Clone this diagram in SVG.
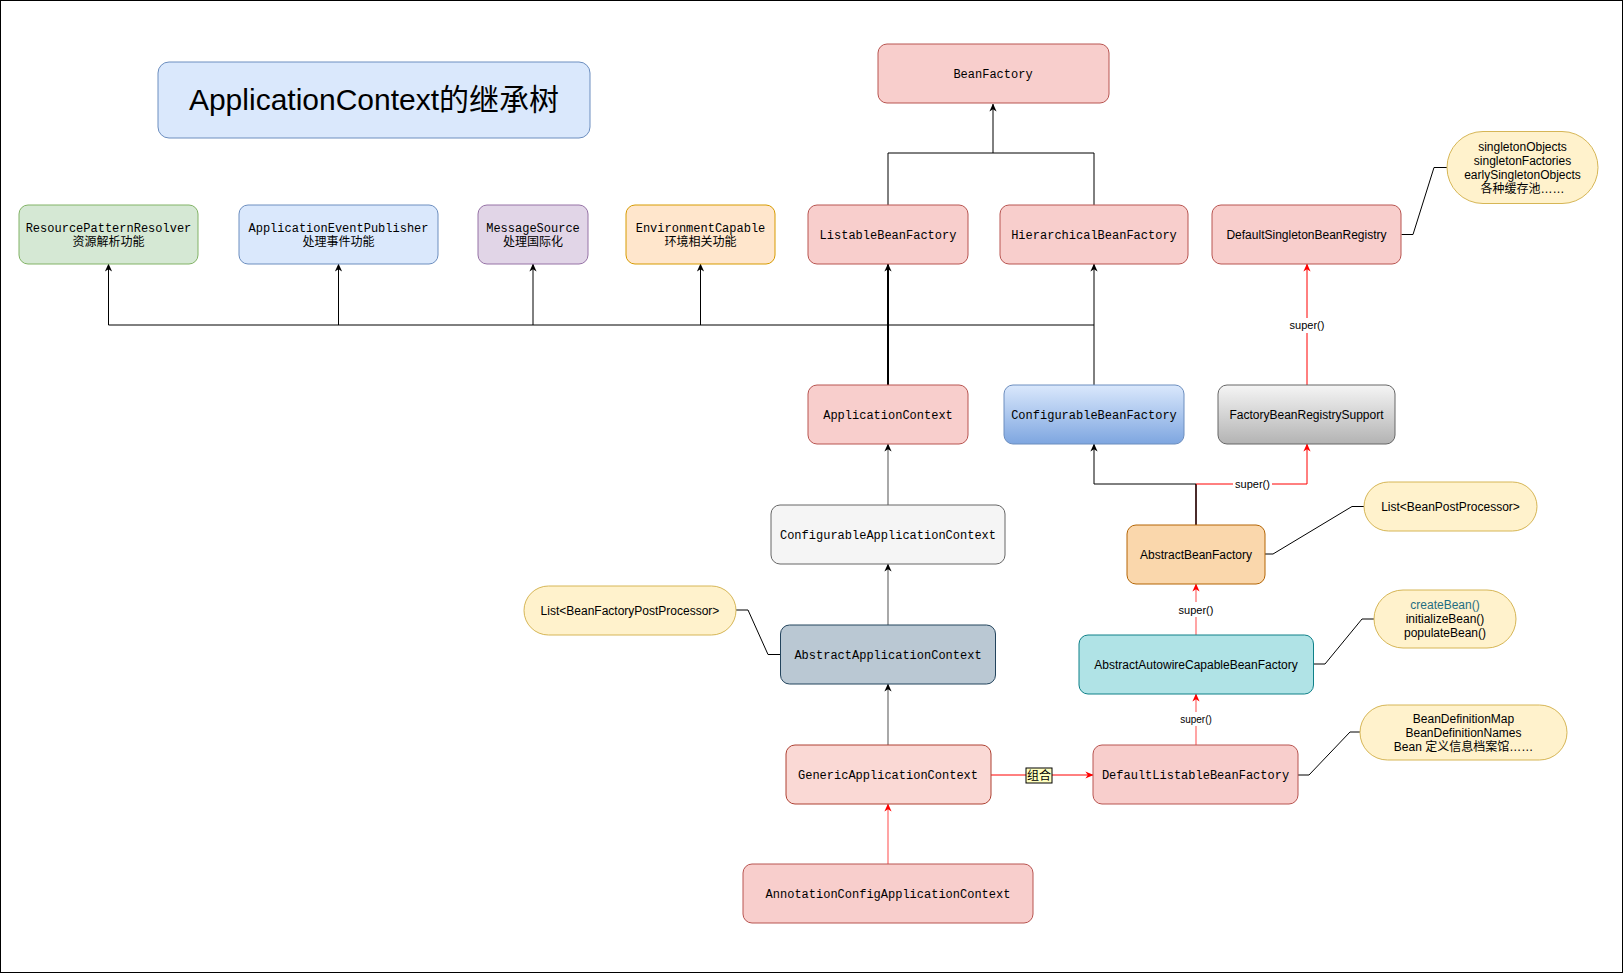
<svg xmlns="http://www.w3.org/2000/svg" width="1623" height="973" viewBox="0 0 1623 973">
<style>
.mono{font-family:"Liberation Mono","Courier New",monospace;font-size:12px;fill:#000;text-anchor:middle}
.sans{font-family:"Liberation Sans",Arial,"Noto Sans CJK SC",sans-serif;font-size:12px;fill:#000;text-anchor:middle}
.lbl{font-family:"Liberation Sans",Arial,"Noto Sans CJK SC",sans-serif;font-size:11px;fill:#000;text-anchor:middle}
.red{fill:#f8cecc;stroke:#b85450}
.note{fill:#fff2cc;stroke:#d6b656}
.e{fill:none;stroke:#000;stroke-width:1}
.eg{fill:none;stroke:#7a7a7a;stroke-width:1.3}
.er{fill:none;stroke:#ff0000;stroke-width:1}
.erl{fill:none;stroke:#ff0000;stroke-opacity:0.55;stroke-width:1.3}
.nl{fill:none;stroke:#000;stroke-width:1}
</style>
<defs>
<marker id="ab" viewBox="0 0 10 10" refX="9.5" refY="5" markerWidth="8" markerHeight="9" markerUnits="userSpaceOnUse" orient="auto"><path d="M0,0.5 L10,5 L0,9.5 L3,5 z" fill="#000"/></marker>
<marker id="ar" viewBox="0 0 10 10" refX="9.5" refY="5" markerWidth="8" markerHeight="9" markerUnits="userSpaceOnUse" orient="auto"><path d="M0,0.5 L10,5 L0,9.5 L3,5 z" fill="#ff0000"/></marker>
<linearGradient id="gBlue" x1="0" y1="0" x2="0" y2="1"><stop offset="0" stop-color="#dae8fc"/><stop offset="1" stop-color="#7ea6e0"/></linearGradient>
<linearGradient id="gGrey" x1="0" y1="0" x2="0" y2="1"><stop offset="0" stop-color="#f5f5f5"/><stop offset="1" stop-color="#b3b3b3"/></linearGradient>
</defs>
<rect x="0.5" y="0.5" width="1622" height="972" fill="#fff" stroke="#000"/>

<g id="connectors">
<!-- BeanFactory hierarchy -->
<path class="e" d="M888,205 V153 H1094 V205"/>
<path class="e" d="M993,153 V104" marker-end="url(#ab)"/>
<!-- ApplicationContext to interfaces -->
<path class="e" d="M108.5,325 H1094"/>
<path class="e" d="M108.5,325 V264" marker-end="url(#ab)"/>
<path class="e" d="M338.5,325 V264" marker-end="url(#ab)"/>
<path class="e" d="M533,325 V264" marker-end="url(#ab)"/>
<path class="e" d="M700.5,325 V264" marker-end="url(#ab)"/>
<path class="e" style="stroke-width:2" d="M888,385 V264" marker-end="url(#ab)"/>
<path class="e" d="M1094,385 V264" marker-end="url(#ab)"/>
<!-- context chain -->
<path class="eg" d="M888,505 V444" marker-end="url(#ab)"/>
<path class="eg" d="M888,625 V564" marker-end="url(#ab)"/>
<path class="eg" d="M888,745 V684" marker-end="url(#ab)"/>
<path class="erl" d="M888,864 V804" marker-end="url(#ar)"/>
<!-- composition -->
<path class="er" d="M991,775 H1093" marker-end="url(#ar)"/>
<rect x="1026" y="768" width="26" height="15" fill="#ffffc0" stroke="#000"/>
<text class="sans" x="1039" y="780">组合</text>
<!-- factory chain -->
<path class="erl" d="M1196,745 V694" marker-end="url(#ar)"/>
<rect x="1178" y="712" width="36" height="14" fill="#fff"/>
<text class="lbl" style="font-size:10px" x="1196" y="723">super()</text>
<path class="erl" d="M1196,635 V584" marker-end="url(#ar)"/>
<rect x="1177" y="602" width="38" height="15" fill="#fff"/>
<text class="lbl" x="1196" y="614">super()</text>
<path class="e" style="stroke:#4a2b2b;stroke-width:2" d="M1196,525 V484"/>
<path class="e" d="M1196,484 H1094 V444" marker-end="url(#ab)"/>
<path class="er" d="M1196,484 H1307 V444" marker-end="url(#ar)"/>
<rect x="1233" y="477" width="39" height="15" fill="#fff"/>
<text class="lbl" x="1252.5" y="488">super()</text>
<path class="er" d="M1307,385 V264" marker-end="url(#ar)"/>
<rect x="1287" y="318" width="40" height="15" fill="#fff"/>
<text class="lbl" x="1307" y="329">super()</text>
<!-- note links -->
<path class="nl" d="M1401.5,234.5 H1413 L1434,167.5 H1447"/>
<path class="nl" d="M1265,554 H1273 L1352,506.5 H1364"/>
<path class="nl" d="M1313.5,664 H1325 L1362,619 H1374"/>
<path class="nl" d="M1298,775 H1309 L1350,732 H1360"/>
<path class="nl" d="M780.5,654.5 H768 L748,610 H736"/>
</g>

<g id="title">
<rect x="158" y="62" width="432" height="76" rx="11" fill="#dae8fc" stroke="#6c8ebf"/>
<text x="374" y="110" style="font-family:'Liberation Sans',Arial,'Noto Sans CJK SC',sans-serif;font-size:30px;text-anchor:middle;fill:#000">ApplicationContext的继承树</text>
</g>

<g id="BeanFactory"><rect class="red" x="878" y="44" width="231" height="59" rx="9"/><text class="mono" x="993" y="78">BeanFactory</text></g>

<g id="ResourcePatternResolver"><rect x="19" y="205" width="179" height="59" rx="9" fill="#d5e8d4" stroke="#82b366"/><text class="mono" x="108.5" y="231.5">ResourcePatternResolver</text><text class="sans" x="108.5" y="245.5">资源解析功能</text></g>

<g id="ApplicationEventPublisher"><rect x="239" y="205" width="199" height="59" rx="9" fill="#dae8fc" stroke="#6c8ebf"/><text class="mono" x="338.5" y="231.5">ApplicationEventPublisher</text><text class="sans" x="338.5" y="245.5">处理事件功能</text></g>

<g id="MessageSource"><rect x="478" y="205" width="110" height="59" rx="9" fill="#e1d5e7" stroke="#9673a6"/><text class="mono" x="533" y="231.5">MessageSource</text><text class="sans" x="533" y="245.5">处理国际化</text></g>

<g id="EnvironmentCapable"><rect x="626" y="205" width="149" height="59" rx="9" fill="#ffe6cc" stroke="#d79b00"/><text class="mono" x="700.5" y="231.5">EnvironmentCapable</text><text class="sans" x="700.5" y="245.5">环境相关功能</text></g>

<g id="ListableBeanFactory"><rect class="red" x="808" y="205" width="160" height="59" rx="9"/><text class="mono" x="888" y="238.5">ListableBeanFactory</text></g>

<g id="HierarchicalBeanFactory"><rect class="red" x="1000" y="205" width="188" height="59" rx="9"/><text class="mono" x="1094" y="238.5">HierarchicalBeanFactory</text></g>

<g id="DefaultSingletonBeanRegistry"><rect class="red" x="1212" y="205" width="189" height="59" rx="9"/><text class="sans" x="1306.5" y="238.5">DefaultSingletonBeanRegistry</text></g>

<g id="noteSingleton"><rect class="note" x="1447" y="131.5" width="151" height="72" rx="36"/>
<text class="sans" x="1522.5" y="151">singletonObjects</text>
<text class="sans" x="1522.5" y="165">singletonFactories</text>
<text class="sans" x="1522.5" y="179">earlySingletonObjects</text>
<text class="sans" x="1522.5" y="193">各种缓存池……</text></g>

<g id="ApplicationContext"><rect class="red" x="808" y="385" width="160" height="59" rx="9"/><text class="mono" x="888" y="418.5">ApplicationContext</text></g>

<g id="ConfigurableBeanFactory"><rect x="1004" y="385" width="180" height="59" rx="9" fill="url(#gBlue)" stroke="#6c8ebf"/><text class="mono" x="1094" y="418.5">ConfigurableBeanFactory</text></g>

<g id="FactoryBeanRegistrySupport"><rect x="1218" y="385" width="177" height="59" rx="9" fill="url(#gGrey)" stroke="#666666"/><text class="sans" x="1306.5" y="418.5">FactoryBeanRegistrySupport</text></g>

<g id="ConfigurableApplicationContext"><rect x="771" y="505" width="234" height="59" rx="9" fill="#f5f5f5" stroke="#666666"/><text class="mono" x="888" y="538.5">ConfigurableApplicationContext</text></g>

<g id="AbstractBeanFactory"><rect x="1127" y="525" width="138" height="59" rx="9" fill="#fad7ac" stroke="#b46504"/><text class="sans" x="1196" y="558.5">AbstractBeanFactory</text></g>

<g id="noteBeanPostProcessor"><rect class="note" x="1364" y="482" width="173" height="49" rx="24.5"/><text class="sans" x="1450.5" y="510.5">List&lt;BeanPostProcessor&gt;</text></g>

<g id="noteBeanFactoryPostProcessor"><rect class="note" x="524" y="586" width="212" height="49" rx="24.5"/><text class="sans" x="630" y="614.5">List&lt;BeanFactoryPostProcessor&gt;</text></g>

<g id="AbstractApplicationContext"><rect x="780.5" y="625" width="215" height="59" rx="9" fill="#bac8d3" stroke="#23445d"/><text class="mono" x="888" y="658.5">AbstractApplicationContext</text></g>

<g id="noteCreateBean"><rect class="note" x="1374" y="590" width="142" height="58" rx="29"/>
<text class="sans" x="1445" y="609" style="fill:#1f6e82">createBean()</text>
<text class="sans" x="1445" y="623">initializeBean()</text>
<text class="sans" x="1445" y="637">populateBean()</text></g>

<g id="AbstractAutowireCapableBeanFactory"><rect x="1079" y="635" width="234.5" height="59" rx="9" fill="#b0e3e6" stroke="#0e8088"/><text class="sans" x="1196" y="668.5">AbstractAutowireCapableBeanFactory</text></g>

<g id="noteBeanDefinition"><rect class="note" x="1360" y="705" width="207" height="55" rx="27.5"/>
<text class="sans" x="1463.5" y="722.5">BeanDefinitionMap</text>
<text class="sans" x="1463.5" y="736.5">BeanDefinitionNames</text>
<text class="sans" x="1463.5" y="750.5">Bean 定义信息档案馆……</text></g>

<g id="GenericApplicationContext"><rect x="786" y="745" width="205" height="59" rx="9" fill="#fad9d5" stroke="#ae4132"/><text class="mono" x="888" y="778.5">GenericApplicationContext</text></g>

<g id="DefaultListableBeanFactory"><rect class="red" x="1093" y="745" width="205" height="59" rx="9"/><text class="mono" x="1195.5" y="778.5">DefaultListableBeanFactory</text></g>

<g id="AnnotationConfigApplicationContext"><rect class="red" x="743" y="864" width="290" height="59" rx="9"/><text class="mono" x="888" y="897.5">AnnotationConfigApplicationContext</text></g>
</svg>
